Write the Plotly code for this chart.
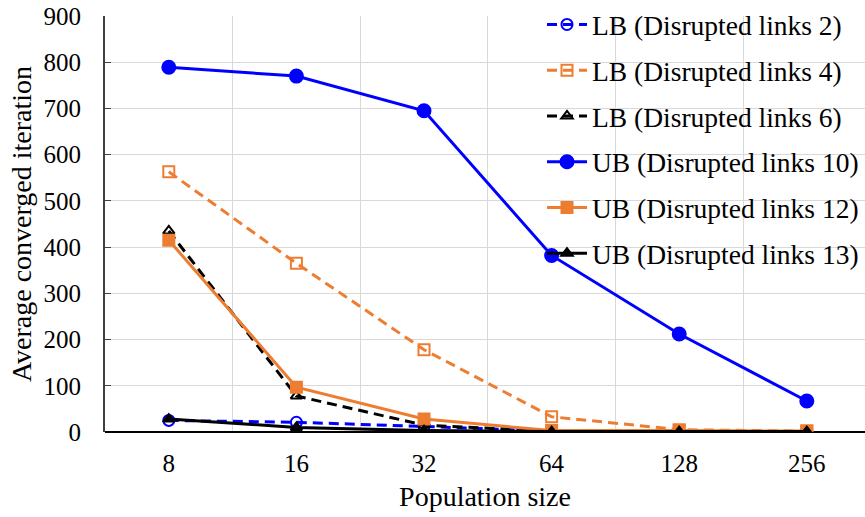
import plotly.graph_objects as go

categories = ["8", "16", "32", "64", "128", "256"]
lb2 = [25, 21, 12, 2, 1, 1]
lb4 = [563, 365, 178, 33, 5, 2]
lb6 = [435, 78, 15, 2, 1, 1]
ub10 = [789, 770, 695, 382, 212, 67]
ub12 = [415, 97, 28, 3, 3, 2]
ub13 = [28, 10, 3, 1, 1, 1]

names = ["LB (Disrupted links 2)", "LB (Disrupted links 4)", "LB (Disrupted links 6)",
         "UB (Disrupted links 10)", "UB (Disrupted links 12)", "UB (Disrupted links 13)"]

BLUE = "#0000FF"
ORANGE = "#ED7D31"
BLACK = "#000000"

series = [
    (lb2, BLUE, "dash", "circle-open", 11),
    (lb4, ORANGE, "dash", "square-open", 11),
    (lb6, BLACK, "dash", "triangle-up-open", 10),
    (ub10, BLUE, "solid", "circle", 13),
    (ub12, ORANGE, "solid", "square", 11),
    (ub13, BLACK, "solid", "triangle-up", 10),
]

fig = go.Figure()
for i, (vals, col, dash, sym, sz) in enumerate(series):
    fig.add_trace(go.Scatter(
        x=categories, y=vals, name=names[i], legendgroup=str(i),
        mode="lines+markers",
        line=dict(color=col, width=3, dash="10px,6px" if dash == "dash" else "solid"),
        marker=dict(symbol=sym, size=sz, color=col, line=dict(color=col, width=2)),
    ))

font = "Liberation Serif, Times New Roman, serif"
fig.update_layout(
    width=865, height=517,
    margin=dict(l=105, r=0, t=16, b=85),
    plot_bgcolor="white", paper_bgcolor="white",
    font=dict(family=font, size=25, color="#000000"),
    showlegend=True,
    legend=dict(x=0.575, y=0.37, xanchor="left", yanchor="bottom",
                bgcolor="rgba(0,0,0,0)", font=dict(size=27.5, family=font),
                tracegroupgap=7, itemwidth=40),
    xaxis=dict(type="category", range=[-0.5, 5.456],
               showgrid=True, gridcolor="#D9D9D9", gridwidth=1,
               showline=False, ticks="", tickfont=dict(size=25),
               ticklabelstandoff=14,
               title=dict(text="Population size", font=dict(size=28), standoff=10)),
    yaxis=dict(range=[0, 900], dtick=100, showgrid=True, gridcolor="#D9D9D9",
               showline=True, linecolor="#404040", linewidth=2,
               ticks="inside", ticklen=6, tickcolor="#404040",
               zeroline=True, zerolinecolor="#000000", zerolinewidth=1.5,
               tickfont=dict(size=25), ticklabelstandoff=17,
               title=dict(text="Average converged iteration", font=dict(size=28), standoff=4)),
)

fig.update_xaxes(tickson="boundaries")

fig.write_html("out.html")
